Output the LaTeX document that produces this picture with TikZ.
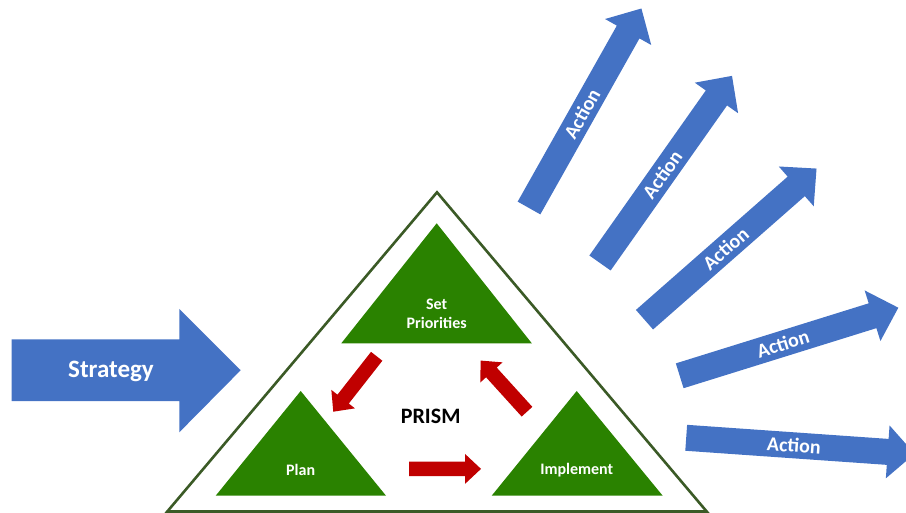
\documentclass[tikz,border=0pt]{standalone}
\usepackage{fontspec}
\setmainfont{Carlito}
\usepackage{tikz}
\definecolor{actionBlue}{HTML}{4472C4}
\definecolor{cycleRed}{HTML}{C00000}
\definecolor{prismGreen}{HTML}{2A8200}
\definecolor{frameGreen}{HTML}{3B5A26}

\begin{document}
\begin{tikzpicture}[x=1pt,y=-1pt]

            \tikzstyle{blockText} = [text=white, font=\bfseries\fontsize{16}{19.5}\selectfont, align=center];
            \tikzstyle{bigText} = [text=white, font=\bfseries\fontsize{25}{30}\selectfont];
            \tikzstyle{actionText} = [text=white, font=\bfseries\fontsize{20}{24}\selectfont];
            \tikzstyle{frame} = [draw=frameGreen, line width=2.6pt];

            \useasboundingbox (0,0) rectangle (906,513);
            \clip (0,0) rectangle (906,513);

            % strategy arrow coming in from the left
            \fill[actionBlue] (11.7,339.3) -- (179.3,339.3) -- (179.3,309) -- (240.7,370.2)
                -- (179.3,432.3) -- (179.3,401) -- (11.7,401) -- cycle;
            \node[bigText] (strategy) at (111,371) {Strategy};

            % outer triangle
            \draw[frame] (437,192.3) -- (706.7,511.5) -- (167.3,511.5) -- cycle;

            % the three inner triangles
            \fill[prismGreen] (436.7,223.3) -- (531.8,343.3) -- (341.3,343.3) -- cycle;
            \fill[prismGreen] (300.7,391) -- (386,495.7) -- (215.7,495.7) -- cycle;
            \fill[prismGreen] (576.7,391) -- (662.7,495.7) -- (491.7,495.7) -- cycle;

            \node[blockText] (priorities) at (436.7,313.7) {Set\\Priorities};
            \node[blockText] (plan) at (300.7,470) {Plan};
            \node[blockText] (implement) at (576.7,470) {Implement};
            \node[font=\bfseries\fontsize{22}{26}\selectfont] (prism) at (430.7,416.7) {PRISM};

            % red cycle arrows
            \foreach \ang/\tx/\ty/\len in {231.9/376.7/356.3/70.4, 0/409/468.9/72, 132.2/527/411.7/69} {
              \begin{scope}[shift={(\tx,\ty)}, rotate=\ang]
                \fill[cycleRed] (0,-7.2) -- ({\len-16},-7.2) -- ({\len-16},-15) -- (\len,0)
                    -- ({\len-16},15) -- ({\len-16},7.2) -- (0,7.2) -- cycle;
              \end{scope}
            }

            % action arrows fanning out
            \foreach \ang/\tx/\ty [count=\i] in {60.6/529/208, 54.8/600/263, 41.3/644.5/319.7, 17.3/679.7/375.8, -4/686.2/437.8} {
              \begin{scope}[shift={(\tx,\ty)}, rotate=\ang]
                \fill[actionBlue] (0,-13) -- (202,-13) -- (202,-26.5) -- (229,0)
                    -- (202,26.5) -- (202,13) -- (0,13) -- cycle;
                \node[actionText, rotate=\ang] (action\i) at (108,0) {Action};
              \end{scope}
            }
          \end{tikzpicture}
\end{document}
